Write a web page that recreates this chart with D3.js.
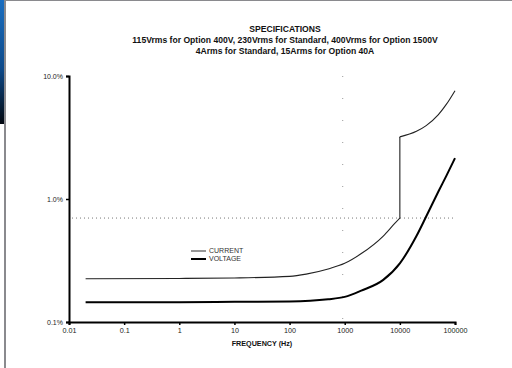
<!DOCTYPE html>
<html>
<head>
<meta charset="utf-8">
<script src="https://cdn.jsdelivr.net/npm/d3@7"></script>
<style>
  html, body { margin: 0; padding: 0; background: #fff; }
  svg { display: block; font-family: "Liberation Sans", Arial, sans-serif; }
</style>
</head>
<body>
<svg id="chart" width="512" height="368"></svg>
<script>
// axis ticks
const freqTicks = [0.01, 0.1, 1, 10, 100, 1000, 10000, 100000];
const freqLabels = ["0.01", "0.1", "1", "10", "100", "1000", "10000", "100000"];
const pctTicks = [0.1, 1, 10];
const pctLabels = ["0.1%", "1.0%", "10.0%"];

// current accuracy (%), jumps at 10 kHz
const currentFreq = [0.02, 1, 10, 100, 200, 500, 1000, 2000, 5000, 8000, 10000, 10000, 20000, 30000, 50000, 70000, 100000];
const currentPct = [0.225, 0.226, 0.228, 0.235, 0.245, 0.27, 0.30, 0.36, 0.5, 0.63, 0.7, 3.2, 3.55, 3.95, 4.85, 5.9, 7.6];

// voltage accuracy (%)
const voltageFreq = [0.02, 1, 10, 100, 500, 1000, 2000, 5000, 10000, 20000, 30000, 50000, 70000, 100000];
const voltagePct = [0.145, 0.145, 0.146, 0.147, 0.153, 0.16, 0.18, 0.22, 0.3, 0.5, 0.72, 1.15, 1.55, 2.15];

const limitPct = 0.7;

const titleLines = [
    "SPECIFICATIONS",
    "115Vrms for Option 400V, 230Vrms for Standard, 400Vrms for Option 1500V",
    "4Arms for Standard, 15Arms for Option 40A"
];

const svg = d3.select("#chart");

// page frame: blue strip + gray borders
const defs = svg.append("defs");
const grad = defs.append("linearGradient")
    .attr("id", "strip")
    .attr("x1", 0).attr("y1", 0).attr("x2", 0).attr("y2", 1);
grad.append("stop").attr("offset", "0%").attr("stop-color", "#1a6ec0");
grad.append("stop").attr("offset", "55%").attr("stop-color", "#0d4a8a");
grad.append("stop").attr("offset", "100%").attr("stop-color", "#020810");
svg.append("rect").attr("x", 0).attr("y", 0).attr("width", 5).attr("height", 124).attr("fill", "url(#strip)");
svg.append("rect").attr("x", 4).attr("y", 0).attr("width", 2).attr("height", 368).attr("fill", "#8a8a8e");
svg.append("rect").attr("x", 6).attr("y", 0).attr("width", 506).attr("height", 1).attr("fill", "#8a8a8e");

const x = d3.scaleLog().domain([0.01, 100000]).range([69, 455]);
const y = d3.scaleLog().domain([0.1, 10]).range([322, 76]);

// title
svg.append("g")
    .selectAll("text")
    .data(titleLines)
    .join("text")
    .attr("x", 285)
    .attr("y", (d, i) => [32, 43, 54][i])
    .attr("text-anchor", "middle")
    .attr("font-size", 8.6)
    .attr("font-weight", "bold")
    .attr("fill", "#111")
    .text(d => d);

// faint dotted grid remnants
svg.append("line")
    .attr("x1", x(1000) - 2).attr("x2", x(1000) - 2)
    .attr("y1", y(10)).attr("y2", y(0.1))
    .attr("stroke", "#999")
    .attr("stroke-width", 1)
    .attr("stroke-dasharray", "1,21");

// 0.7% limit line
svg.append("line")
    .attr("x1", 72).attr("x2", x(100000))
    .attr("y1", y(limitPct)).attr("y2", y(limitPct))
    .attr("stroke", "#777")
    .attr("stroke-width", 1)
    .attr("stroke-dasharray", "1,3");

// axes
const xAxis = svg.append("g")
    .attr("transform", "translate(0," + y(0.1) + ")")
    .call(d3.axisBottom(x).tickValues(freqTicks).tickFormat((d, i) => freqLabels[i]).tickSize(3).tickPadding(3));
xAxis.select(".domain").attr("stroke", "#000").attr("stroke-width", 2);
xAxis.selectAll(".tick line").attr("stroke", "#000").attr("stroke-width", 1.5);
xAxis.selectAll("text").attr("font-size", 7.2).attr("fill", "#222").attr("font-family", "Liberation Sans, Arial, sans-serif");

const yAxis = svg.append("g")
    .attr("transform", "translate(" + x(0.01) + ",0)")
    .call(d3.axisLeft(y).tickValues(pctTicks).tickFormat((d, i) => pctLabels[i]).tickSize(3).tickPadding(3));
yAxis.select(".domain").attr("stroke", "#000").attr("stroke-width", 2);
yAxis.selectAll(".tick line").attr("stroke", "#000").attr("stroke-width", 1.5);
yAxis.selectAll("text").attr("font-size", 7).attr("fill", "#222").attr("font-family", "Liberation Sans, Arial, sans-serif");

svg.append("text")
    .attr("x", 262)
    .attr("y", 346)
    .attr("text-anchor", "middle")
    .attr("font-size", 7.2)
    .attr("font-weight", "bold")
    .attr("fill", "#111")
    .text("FREQUENCY (Hz)");

// curves
const line = d3.line()
    .x(d => x(d[0]))
    .y(d => y(d[1]))
    .curve(d3.curveMonotoneX);

// split current series where the frequency repeats (vertical step)
const currentPts = currentFreq.map((f, i) => [f, currentPct[i]]);
const stepAt = currentFreq.findIndex((f, i) => i > 0 && f === currentFreq[i - 1]);
const currentLow = currentPts.slice(0, stepAt);
const currentHigh = currentPts.slice(stepAt);

const curves = svg.append("g").attr("fill", "none");
curves.append("path")
    .attr("d", line(currentLow) + "L" + x(currentHigh[0][0]) + "," + y(currentHigh[0][1]) + line(currentHigh).replace(/^M/, "L"))
    .attr("stroke", "#222")
    .attr("stroke-width", 1.1);

curves.append("path")
    .attr("d", line(voltageFreq.map((f, i) => [f, voltagePct[i]])))
    .attr("stroke", "#000")
    .attr("stroke-width", 2);

// legend
const legend = svg.append("g").attr("font-size", 7).attr("fill", "#333");
const legendItems = [["CURRENT", 1.1, "#444"], ["VOLTAGE", 2, "#000"]];
legendItems.forEach((item, i) => {
    const ly = 251 + i * 8;
    legend.append("line")
        .attr("x1", 191).attr("x2", 206)
        .attr("y1", ly).attr("y2", ly)
        .attr("stroke", item[2])
        .attr("stroke-width", item[1]);
    legend.append("text")
        .attr("x", 209)
        .attr("y", ly)
        .attr("dy", "0.35em")
        .text(item[0]);
});
</script>
</body>
</html>
